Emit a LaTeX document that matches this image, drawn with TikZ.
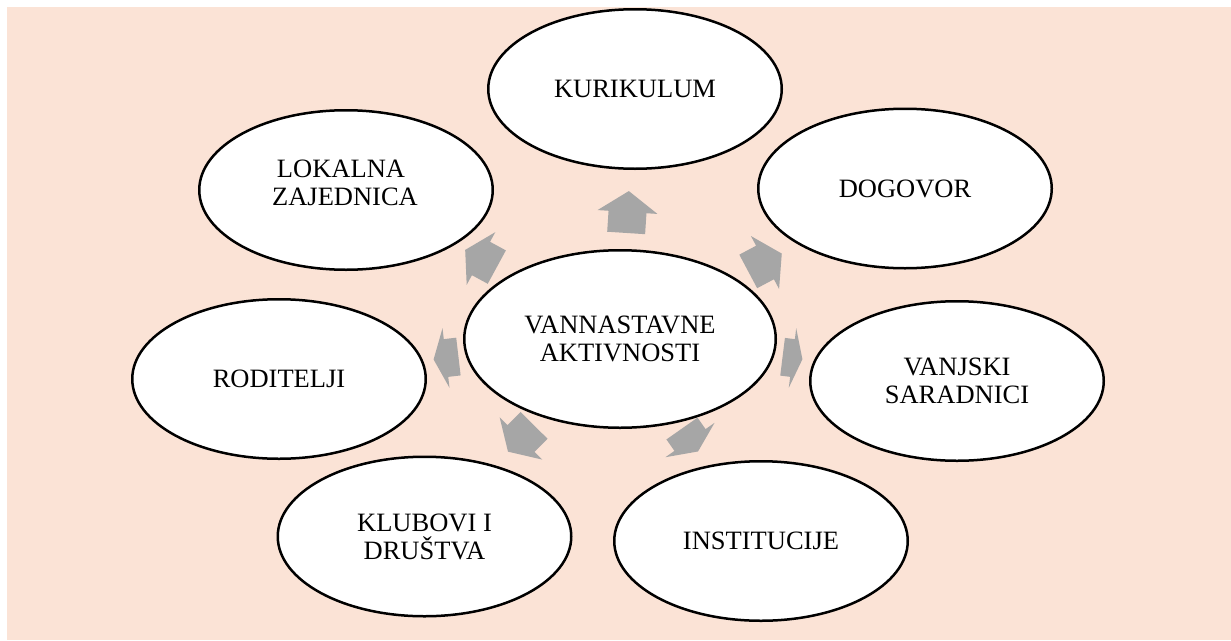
\documentclass[tikz,border=0pt]{standalone}
\usepackage{fontspec}
\setmainfont{Liberation Serif}
\usetikzlibrary{shapes.geometric}
\definecolor{bgpeach}{HTML}{FBE3D6}
\definecolor{arrowgray}{HTML}{A6A6A6}
\newcommand{\blockarrow}[4]{%
  \fill[arrowfill, shift={(#1)}, rotate=#2]
    ({-#3/2},-19) -- (0,-19) -- (0,-30) -- ({#3/2},0) -- (0,30) -- (0,19) -- ({-#3/2},19) -- cycle;
  \coordinate (#4) at (#1);}
\begin{document}
\begin{tikzpicture}[x=1pt,y=-1pt,
  bubble/.style={ellipse, draw=black, line width=2.5pt, fill=white, inner sep=0pt,
    align=center, font=\fontsize{26.5}{28}\selectfont,
    minimum width=293.5pt, minimum height=159.5pt},
  bubtext/.style={inner sep=0pt, align=center, font=\fontsize{26.5}{28}\selectfont},
  arrowfill/.style={fill=arrowgray}]
\useasboundingbox (0,0) rectangle (1231,640);
\fill[bgpeach] (7,7) rectangle (1231,640);

\node[bubble, minimum width=311.5pt, minimum height=177.5pt] (c) at (620,339) {VANNASTAVNE\\AKTIVNOSTI};
\node[bubble] (kur) at (635,89) {KURIKULUM};
\node[bubble] (dog) at (905,188.5) {DOGOVOR};
\node[bubble] (van) at (957,381) {VANJSKI\\SARADNICI};
\node[bubble] (ins) at (761,541) {INSTITUCIJE};
\node[bubble] (klu) at (424.5,536.5) {KLUBOVI I\\DRUŠTVA};
\node[bubble] (rod) at (279,379) {RODITELJI};
\node[bubble] (lok) at (346,190) {};
\node[bubtext] (loktext) at (345,183) {LOKALNA\hspace*{8pt}\\ZAJEDNICA};

\blockarrow{627.5,212}{86.3}{42}{a1}
\blockarrow{765,262.5}{28}{38}{a2}
\blockarrow{792.5,358}{-7.1}{20}{a3}
\blockarrow{690,440}{-55}{28}{a4}
\blockarrow{521,438.5}{225.3}{37}{a5}
\blockarrow{446,358}{186.7}{25}{a6}
\blockarrow{481,258.5}{151.5}{36}{a7}
\end{tikzpicture}
\end{document}
